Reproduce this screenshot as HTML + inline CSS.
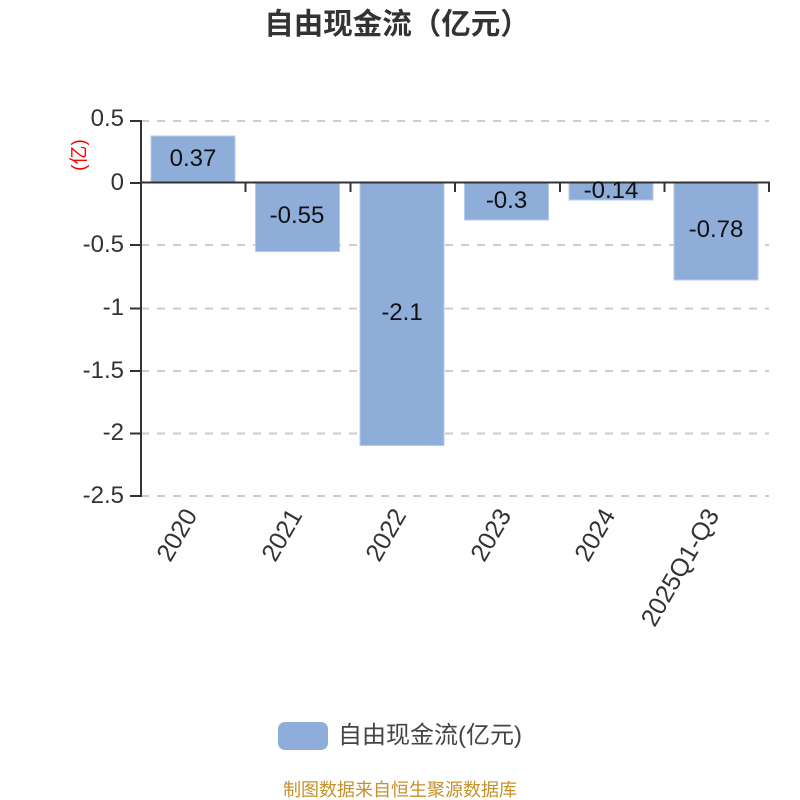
<!DOCTYPE html>
<html><head><meta charset="utf-8"><style>
html,body{margin:0;padding:0;background:#fff}
svg{display:block}
text{font-family:"Liberation Sans","Noto Sans CJK SC",sans-serif}
</style></head><body>
<svg width="800" height="800" viewBox="0 0 800 800" xmlns="http://www.w3.org/2000/svg">
<text x="397" y="34" text-anchor="middle" font-size="29.500" font-weight="700" fill="#333" font-family="Noto Sans CJK SC">自由现金流（亿元）</text>
<g stroke="#ccc" stroke-width="2" stroke-dasharray="8 8" fill="none">
<path d="M141 121H769M141 245H769M141 308.500H769M141 371H769M141 433.500H769M141 496H769"/>
</g>
<g fill="#8eadd9" stroke="#b5caea" stroke-width="1">
<rect x="151" y="136" width="84" height="46.500"/>
<rect x="255.500" y="182.500" width="84" height="69"/>
<rect x="360" y="182.500" width="84" height="263"/>
<rect x="464.500" y="182.500" width="84" height="37.500"/>
<rect x="569" y="182.500" width="84" height="17.500"/>
<rect x="674" y="182.500" width="84" height="97.500"/>
</g>
<g stroke="#333" stroke-width="2" fill="none">
<path d="M141 120V497"/>
<path d="M130 121H141M130 183H141M130 245H141M130 308.500H141M130 371H141M130 433.500H141M130 496H141"/>
<path d="M141 182.500H770"/>
<path d="M245.500 182V192M350.500 182V192M455 182V192M560 182V192M664.500 182V192M769 182V192"/>
</g>
<g font-size="24" fill="#333" text-anchor="end">
<text x="124" y="126">0.5</text>
<text x="124" y="190">0</text>
<text x="124" y="252">-0.5</text>
<text x="124" y="315">-1</text>
<text x="124" y="378">-1.5</text>
<text x="124" y="440">-2</text>
<text x="124" y="503">-2.5</text>
</g>
<text transform="translate(85 155) rotate(-90)" text-anchor="middle" font-size="19" fill="#f00">(亿)</text>
<g font-size="24" fill="#111" text-anchor="middle">
<text x="193" y="166">0.37</text>
<text x="297" y="223">-0.55</text>
<text x="402" y="320">-2.1</text>
<text x="506.500" y="208">-0.3</text>
<text x="611" y="198">-0.14</text>
<text x="716" y="237">-0.78</text>
</g>
<g font-size="25" fill="#333" text-anchor="end">
<text transform="translate(198 515) rotate(-60)">2020</text>
<text transform="translate(303 515) rotate(-60)">2021</text>
<text transform="translate(407 515) rotate(-60)">2022</text>
<text transform="translate(512 515) rotate(-60)">2023</text>
<text transform="translate(616 515) rotate(-60)">2024</text>
<text transform="translate(720 515) rotate(-60)">2025Q1-Q3</text>
</g>
<rect x="278" y="722" width="50" height="28" rx="7" ry="7" fill="#8eadd9"/>
<text x="338" y="743" font-size="24" fill="#444">自由现金流(亿元)</text>
<text x="400" y="796" text-anchor="middle" font-size="18" fill="#c6902a">制图数据来自恒生聚源数据库</text>
</svg>
</body></html>
